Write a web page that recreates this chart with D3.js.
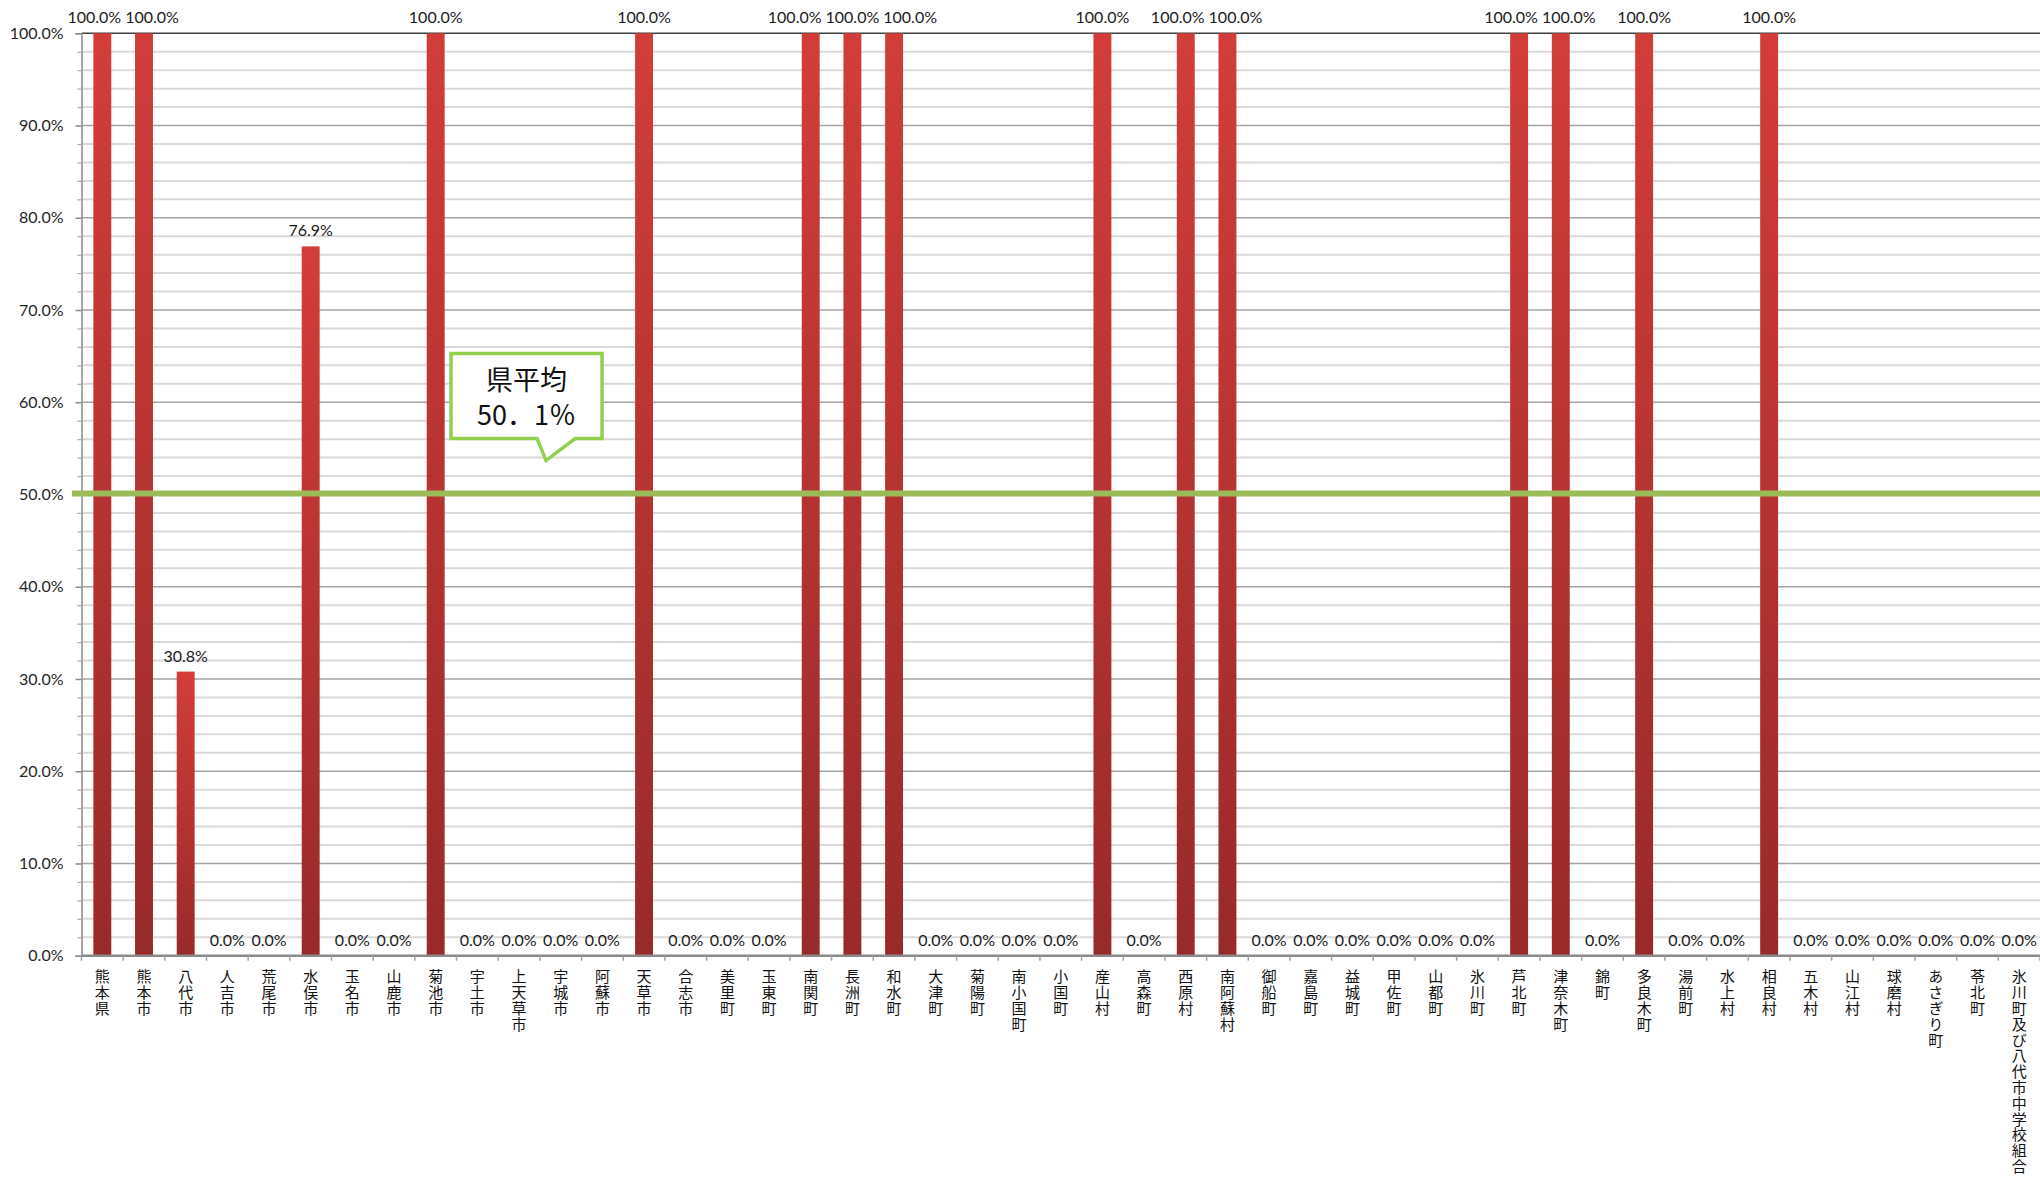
<!DOCTYPE html>
<html>
<head>
<meta charset="utf-8">
<script src="https://cdn.jsdelivr.net/npm/d3@7/dist/d3.min.js"></script>
<style>
  html, body { margin: 0; padding: 0; background: #fff; }
  svg { display: block; }
</style>
</head>
<body>
<div class="chart"></div>
<script>
// categories (municipalities) and their rates
var categories = ["熊本県", "熊本市", "八代市", "人吉市", "荒尾市", "水俣市", "玉名市", "山鹿市", "菊池市", "宇土市",
  "上天草市", "宇城市", "阿蘇市", "天草市", "合志市", "美里町", "玉東町", "南関町", "長洲町", "和水町",
  "大津町", "菊陽町", "南小国町", "小国町", "産山村", "高森町", "西原村", "南阿蘇村", "御船町", "嘉島町",
  "益城町", "甲佐町", "山都町", "氷川町", "芦北町", "津奈木町", "錦町", "多良木町", "湯前町", "水上村",
  "相良村", "五木村", "山江村", "球磨村", "あさぎり町", "苓北町", "氷川町及び八代市中学校組合"];
var rates = [1.0, 1.0, 0.308, 0, 0, 0.769, 0, 0, 1.0, 0,
  0, 0, 0, 1.0, 0, 0, 0, 1.0, 1.0, 1.0,
  0, 0, 0, 0, 1.0, 0, 1.0, 1.0, 0, 0,
  0, 0, 0, 0, 1.0, 1.0, 0, 1.0, 0, 0,
  1.0, 0, 0, 0, 0, 0, 0];
var majorTicks = [0, 0.1, 0.2, 0.3, 0.4, 0.5, 0.6, 0.7, 0.8, 0.9, 1.0];
var averageRate = 0.501;
var averageLabel = ["県平均", "50．1％"];

var svgWidth = 2040;
var svgHeight = 1177;
var margin = {top: 33.3, right: 0, bottom: 221.3, left: 81.5};
var width = svgWidth - margin.left - margin.right;
var height = svgHeight - margin.top - margin.bottom;

var numFont = "Lato, 'Open Sans', sans-serif";
var jpFont = "'Noto Sans CJK JP', 'Noto Sans', sans-serif";

var svg = d3.select(".chart").append("svg")
  .attr("width", svgWidth)
  .attr("height", svgHeight);

// bar gradient, per bar: light red on top, darker at the bottom
var defs = svg.append("defs");
var grad = defs.append("linearGradient")
  .attr("id", "barGrad")
  .attr("x1", 0).attr("y1", 0).attr("x2", 0).attr("y2", 1);
grad.append("stop").attr("offset", "0%").attr("stop-color", "#d23d3a");
grad.append("stop").attr("offset", "100%").attr("stop-color", "#982a2a");

var chart = svg.append("g")
  .attr("transform", "translate(" + margin.left + "," + margin.top + ")");

var x = d3.scaleBand()
  .domain(categories)
  .range([0, width])
  .paddingInner(0.57)
  .paddingOuter(0.285);

var y = d3.scaleLinear().domain([0, 1]).range([height, 0]);

// gridlines: minor every 2%, major every 10%
var minorTicks = d3.range(1, 50).map(function(d) { return d * 0.02; })
  .filter(function(d) { return Math.abs(d * 10 - Math.round(d * 10)) > 1e-6; });

chart.append("g").selectAll("line.minor")
  .data(minorTicks)
  .enter().append("line")
  .attr("x1", 0).attr("x2", width)
  .attr("y1", function(d) { return y(d); })
  .attr("y2", function(d) { return y(d); })
  .attr("stroke", "#d9d9d9")
  .attr("stroke-width", 2);

chart.append("g").selectAll("line.major")
  .data(majorTicks.filter(function(d) { return d > 0; }))
  .enter().append("line")
  .attr("x1", 0).attr("x2", width)
  .attr("y1", function(d) { return y(d); })
  .attr("y2", function(d) { return y(d); })
  .attr("stroke", function(d) { return d === 1 ? "#404040" : "#a3a3a3"; })
  .attr("stroke-width", 1.5);

// y axis
var leftAxis = d3.axisLeft(y)
  .tickValues(majorTicks)
  .tickFormat(d3.format(".1%"))
  .tickSize(6)
  .tickPadding(12);

var yAxis = chart.append("g").call(leftAxis);
yAxis.select(".domain").attr("stroke", "#8c8c8c").attr("stroke-width", 1.5);
yAxis.selectAll(".tick line").attr("stroke", "#8c8c8c").attr("stroke-width", 1.5);
yAxis.selectAll(".tick text")
  .attr("font-family", numFont)
  .attr("font-size", 16)
  .attr("fill", "#262626");

var minorAxis = chart.append("g")
  .call(d3.axisLeft(y).tickValues(minorTicks).tickSize(4).tickFormat(""));
minorAxis.select(".domain").remove();
minorAxis.selectAll(".tick line").attr("stroke", "#a6a6a6").attr("stroke-width", 1.2);

// bars
chart.append("g").selectAll("rect")
  .data(rates)
  .enter().append("rect")
  .attr("x", function(d, i) { return x(categories[i]); })
  .attr("width", x.bandwidth())
  .attr("y", function(d) { return y(d); })
  .attr("height", function(d) { return height - y(d); })
  .attr("fill", "url(#barGrad)");

// x axis line and category separators
chart.append("line")
  .attr("x1", 0).attr("x2", width)
  .attr("y1", height).attr("y2", height)
  .attr("stroke", "#8a8a8a")
  .attr("stroke-width", 2.5);

chart.append("g").selectAll("line")
  .data(d3.range(categories.length + 1))
  .enter().append("line")
  .attr("x1", function(i) { return i * x.step(); })
  .attr("x2", function(i) { return i * x.step(); })
  .attr("y1", height)
  .attr("y2", height + 5)
  .attr("stroke", "#a0a0a0")
  .attr("stroke-width", 1.5);

// category labels, written vertically with upright characters
chart.append("g").selectAll("text")
  .data(categories)
  .enter().append("text")
  .attr("x", function(d) { return x(d) + x.bandwidth() / 2; })
  .attr("y", height + 13.5)
  .style("writing-mode", "vertical-rl")
  .style("text-orientation", "upright")
  .style("letter-spacing", "0.8px")
  .attr("font-family", jpFont)
  .attr("font-size", 15)
  .attr("fill", "#111")
  .text(function(d) { return d; });

// value labels above bars
var fmt = d3.format(".1%");
var valueLabels = chart.append("g").selectAll("text")
  .data(rates)
  .enter().append("text")
  .attr("font-family", numFont)
  .attr("font-size", 16)
  .attr("fill", "#1a1a1a")
  .attr("text-anchor", "middle")
  .attr("y", function(d) { return y(d) - 10; })
  .text(function(d) { return fmt(d); });

// spread overlapping labels that sit on the same level
var items = [];
valueLabels.each(function(d, i) {
  items.push({
    node: this,
    cx: x(categories[i]) + x.bandwidth() / 2,
    y: y(d),
    w: this.getComputedTextLength()
  });
});
for (var iter = 0; iter < 60; iter++) {
  for (var i = 0; i < items.length - 1; i++) {
    var a = items[i], b = items[i + 1];
    if (Math.abs(a.y - b.y) > 15) continue;
    var need = (a.w + b.w) / 2 + 4 - (b.cx - a.cx);
    if (need > 0) {
      a.cx -= need / 2;
      b.cx += need / 2;
    }
  }
}
items.forEach(function(it) { d3.select(it.node).attr("x", it.cx); });

// prefecture average line
var avgY = y(averageRate);
chart.append("line")
  .attr("x1", -9.5).attr("x2", width)
  .attr("y1", avgY).attr("y2", avgY)
  .attr("stroke", "#9bbb59")
  .attr("stroke-width", 6);

// callout for the average
var anchorCat = "上天草市";
var tipX = x(anchorCat) + x.bandwidth() / 2 + 27;
var tipY = avgY - 33;
var boxL = tipX - 95, boxR = tipX + 56, boxT = tipY - 107, boxB = tipY - 22;
var callout = chart.append("g");
callout.append("path")
  .attr("d", "M" + boxL + "," + boxT + "H" + boxR + "V" + boxB +
    "H" + (tipX + 29) + "L" + tipX + "," + tipY + "L" + (tipX - 9) + "," + boxB +
    "H" + boxL + "Z")
  .attr("fill", "#fff")
  .attr("stroke", "#92d050")
  .attr("stroke-width", 3.5)
  .attr("stroke-linejoin", "miter");
callout.selectAll("text")
  .data(averageLabel)
  .enter().append("text")
  .attr("x", (boxL + boxR) / 2)
  .attr("y", function(d, i) { return boxT + 36 + i * 35; })
  .attr("text-anchor", "middle")
  .attr("font-family", jpFont)
  .attr("font-size", 27)
  .attr("fill", "#111")
  .text(function(d) { return d; });
</script>
</body>
</html>
